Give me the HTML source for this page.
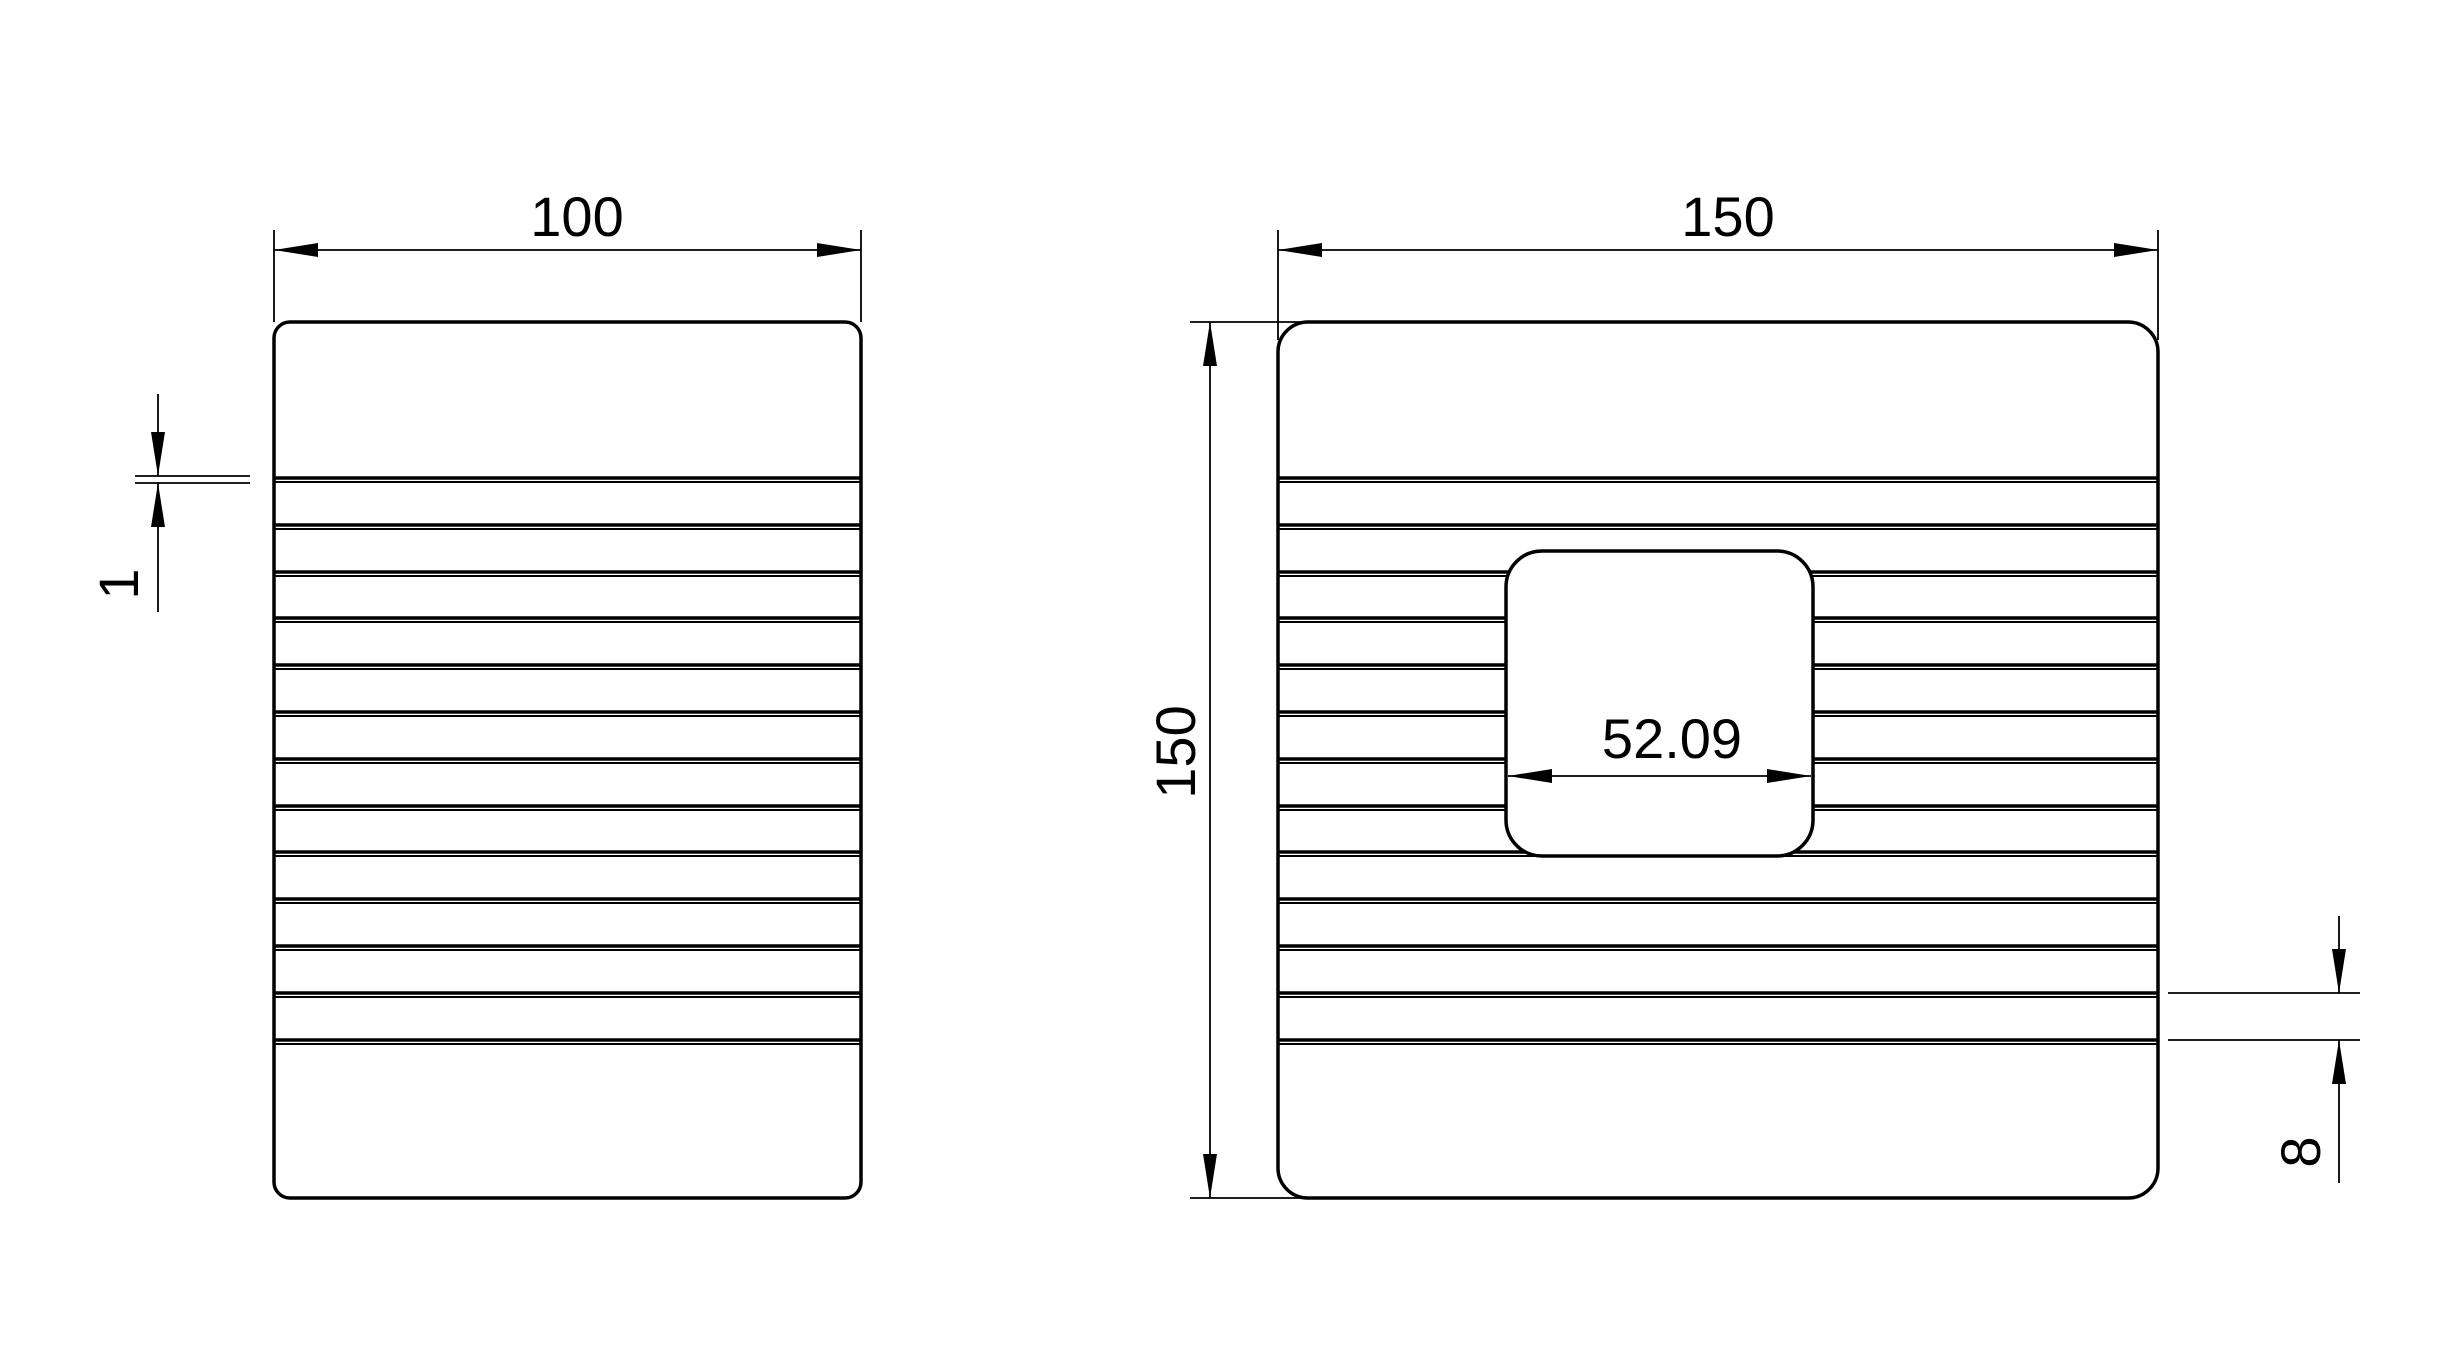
<!DOCTYPE html>
<html><head><style>html,body{margin:0;padding:0;background:#fff;}svg{display:block}</style></head>
<body>
<svg width="2442" height="1365" viewBox="0 0 2442 1365" xmlns="http://www.w3.org/2000/svg">
<defs>
<marker id="a" viewBox="0 0 44 14" refX="44" refY="7" markerWidth="44" markerHeight="14" markerUnits="userSpaceOnUse" orient="auto-start-reverse"><path d="M0,0 L44,7 L0,14 z" fill="#000"/></marker>
</defs>
<g fill="none" stroke="#000">
<!-- left view -->
<g stroke-width="3.5">
<path d="M274 478H861M274 525H861M274 572H861M274 618H861M274 665H861M274 712H861M274 759H861M274 806H861M274 852H861M274 899H861M274 946H861M274 993H861M274 1040H861"/>
</g>
<g stroke-width="2">
<path d="M274 482H861M274 529H861M274 576H861M274 622H861M274 669H861M274 716H861M274 763H861M274 810H861M274 856H861M274 903H861M274 950H861M274 997H861M274 1044H861"/>
</g>
<rect x="274" y="322" width="587" height="876" rx="16" stroke-width="3.5"/>
<!-- right view lines -->
<g stroke-width="3.5">
<path d="M1278 478H2158M1278 525H2158M1278 572H2158M1278 618H2158M1278 665H2158M1278 712H2158M1278 759H2158M1278 806H2158M1278 852H2158M1278 899H2158M1278 946H2158M1278 993H2158M1278 1040H2158"/>
</g>
<g stroke-width="2">
<path d="M1278 482H2158M1278 529H2158M1278 576H2158M1278 622H2158M1278 669H2158M1278 716H2158M1278 763H2158M1278 810H2158M1278 856H2158M1278 903H2158M1278 950H2158M1278 997H2158M1278 1044H2158"/>
</g>
<rect x="1278" y="322" width="880" height="876" rx="30" stroke-width="3.5"/>
<rect x="1506" y="551" width="307" height="305" rx="36" stroke-width="3.5" fill="#fff"/>
<!-- dimensions -->
<g stroke-width="1.8">
<path d="M274 230V322M861 230V322"/>
<path d="M274 250H861" marker-start="url(#a)" marker-end="url(#a)"/>
<path d="M1278 230V340M2158 230V340"/>
<path d="M1278 250H2158" marker-start="url(#a)" marker-end="url(#a)"/>
<path d="M1190 322H1304M1190 1198H1304"/>
<path d="M1210 322V1198" marker-start="url(#a)" marker-end="url(#a)"/>
<path d="M1508 776H1811" marker-start="url(#a)" marker-end="url(#a)"/>
<path d="M135 476H250M135 483H250"/>
<path d="M158 394V476" marker-end="url(#a)"/>
<path d="M158 612V483" marker-end="url(#a)"/>
<path d="M2168 993H2360M2168 1040H2360"/>
<path d="M2339 916V993" marker-end="url(#a)"/>
<path d="M2339 1183V1040" marker-end="url(#a)"/>
</g>
</g>
<g font-family="Liberation Sans, sans-serif" font-size="56" fill="#000" text-anchor="middle">
<text x="577" y="236">100</text>
<text x="1728" y="236">150</text>
<text x="1672" y="758">52.09</text>
<text transform="translate(1195,752) rotate(-90)">150</text>
<text transform="translate(138,584) rotate(-90)">1</text>
<text transform="translate(2320,1152) rotate(-90)">8</text>
</g>
</svg>
</body></html>
